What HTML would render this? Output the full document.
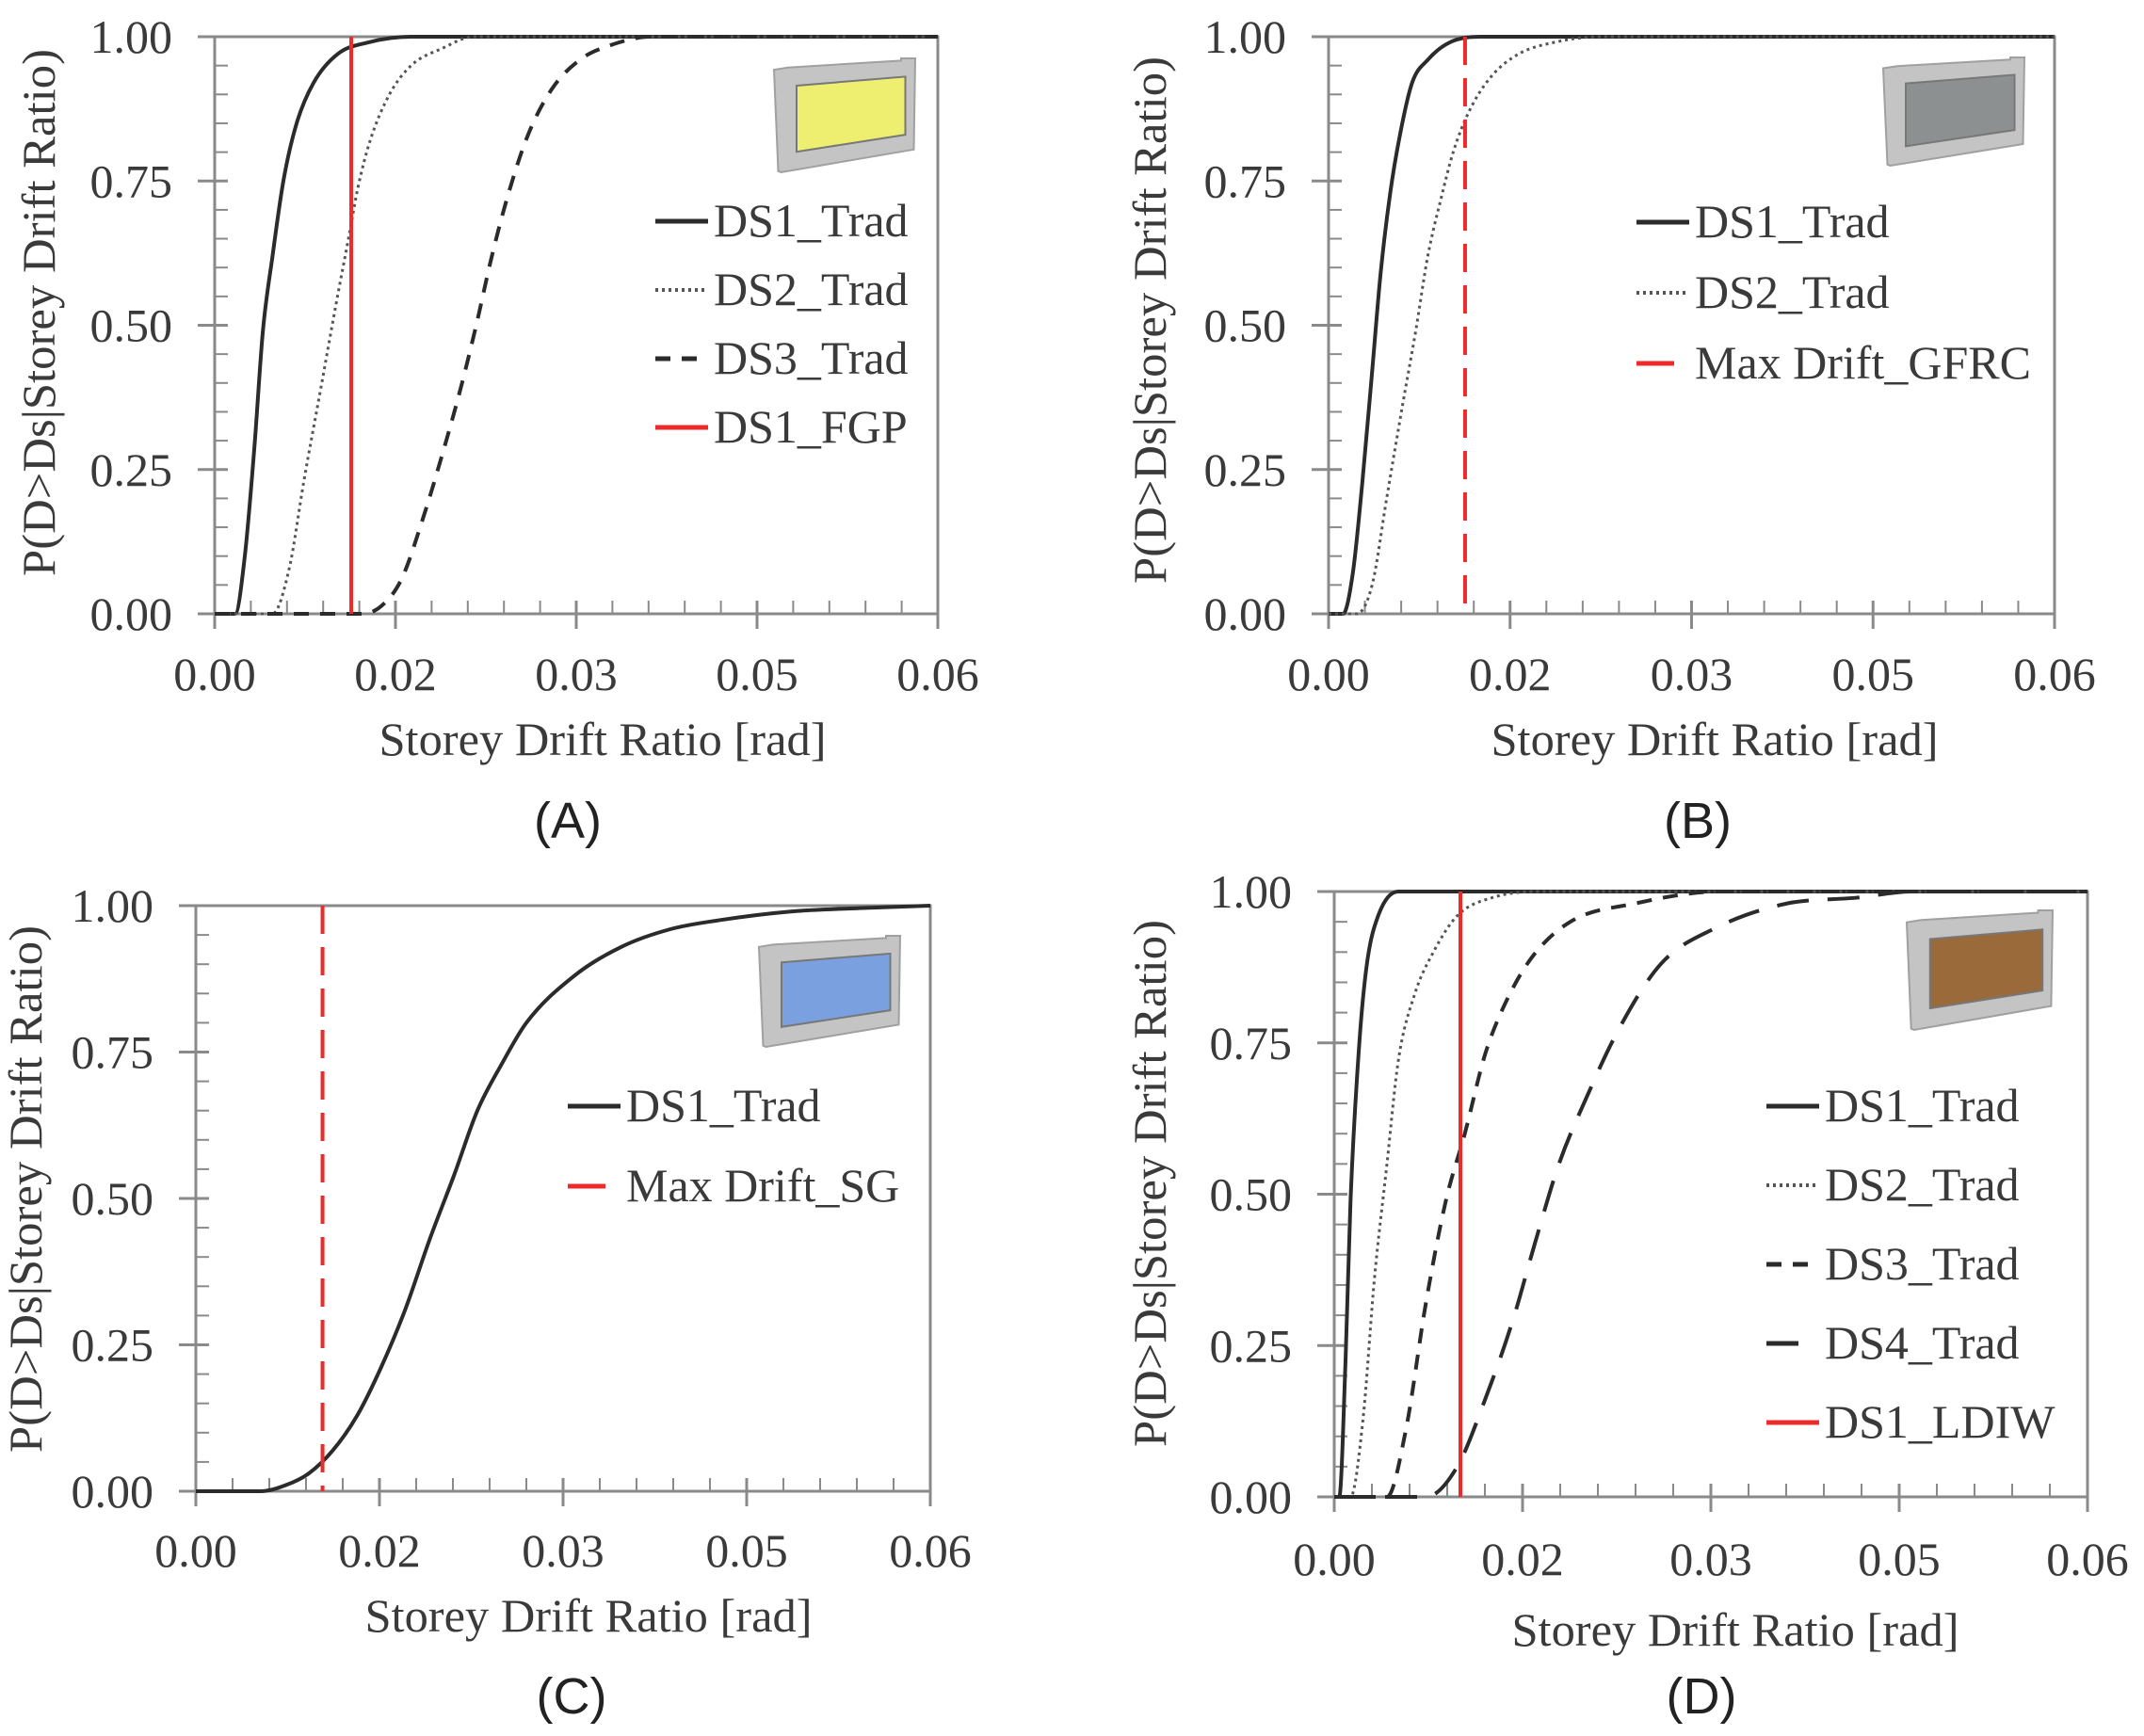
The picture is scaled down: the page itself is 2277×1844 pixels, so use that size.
<!DOCTYPE html>
<html><head><meta charset="utf-8"><style>
html,body{margin:0;padding:0;background:#fff;}
svg{display:block;}
text{font-family:"Liberation Serif",serif;fill:#3a3a3a;}
.ser{font-size:50px;}
.lab{font-family:"Liberation Sans",sans-serif;font-size:54px;fill:#222;}
</style></head><body>
<svg id="fig" width="2277" height="1844" viewBox="0 0 2277 1844" xmlns="http://www.w3.org/2000/svg"></svg>
<script>
// ---------- data ----------
const xTickValues = [0, 0.015, 0.03, 0.045, 0.06];
const xTickLabels = ["0.00", "0.02", "0.03", "0.05", "0.06"];
const yTickValues = [0, 0.25, 0.5, 0.75, 1];
const yTickLabels = ["0.00", "0.25", "0.50", "0.75", "1.00"];

// Panel A
const aDS1x = [0, 0.0017, 0.0025, 0.0033, 0.0040, 0.0048, 0.0057, 0.0068, 0.0082, 0.0102, 0.0127, 0.0163, 0.06];
const aDS1y = [0, 0, 0.10, 0.29, 0.49, 0.62, 0.75, 0.85, 0.92, 0.97, 0.99, 1, 1];
const aDS2x = [0, 0.0048, 0.0062, 0.0074, 0.0088, 0.0101, 0.0111, 0.0119, 0.0129, 0.0145, 0.0163, 0.0189, 0.0215, 0.06];
const aDS2y = [0, 0, 0.08, 0.23, 0.39, 0.54, 0.65, 0.74, 0.82, 0.90, 0.95, 0.98, 1, 1];
const aDS3x = [0, 0.0122, 0.0138, 0.0155, 0.0172, 0.0188, 0.0204, 0.0217, 0.0230, 0.0244, 0.0260, 0.0280, 0.0303, 0.0328, 0.0362, 0.06];
const aDS3y = [0, 0, 0.013, 0.06, 0.16, 0.27, 0.39, 0.50, 0.62, 0.73, 0.83, 0.91, 0.96, 0.985, 1, 1];
const aRed = 0.01133;

// Panel B
const bDS1x = [0, 0.0012, 0.0020, 0.0028, 0.0036, 0.0043, 0.0051, 0.0059, 0.0069, 0.0082, 0.0100, 0.0126, 0.06];
const bDS1y = [0, 0, 0.07, 0.23, 0.42, 0.59, 0.73, 0.83, 0.92, 0.96, 0.99, 1, 1];
const bDS2x = [0, 0.0023, 0.0036, 0.0048, 0.0061, 0.0072, 0.0082, 0.0093, 0.0103, 0.0116, 0.0134, 0.0157, 0.0186, 0.0225, 0.06];
const bDS2y = [0, 0, 0.05, 0.20, 0.36, 0.49, 0.62, 0.72, 0.80, 0.87, 0.93, 0.97, 0.99, 1, 1];
const bRed = 0.01128;

// Panel C
const cDS1x = [0, 0.0053, 0.0073, 0.0092, 0.0112, 0.0132, 0.0151, 0.0171, 0.0191, 0.0211, 0.0230, 0.0250, 0.0270, 0.0309, 0.0348, 0.0388, 0.0427, 0.0486, 0.0545, 0.06];
const cDS1y = [0, 0, 0.01, 0.03, 0.07, 0.13, 0.21, 0.31, 0.43, 0.54, 0.65, 0.73, 0.80, 0.88, 0.93, 0.96, 0.975, 0.99, 0.996, 1];
const cRed = 0.01035;

// Panel D
const dDS1x = [0, 0.0004, 0.0009, 0.0013, 0.0020, 0.0026, 0.0035, 0.0051, 0.06];
const dDS1y = [0, 0, 0.225, 0.49, 0.75, 0.88, 0.96, 1, 1];
const dDS2x = [0, 0.0013, 0.0023, 0.0032, 0.0042, 0.0051, 0.0064, 0.0079, 0.0098, 0.0126, 0.0164, 0.06];
const dDS2y = [0, 0, 0.13, 0.36, 0.55, 0.72, 0.83, 0.90, 0.96, 0.99, 1, 1];
const dDS3x = [0, 0.0042, 0.0057, 0.0073, 0.0089, 0.0104, 0.0120, 0.0135, 0.0157, 0.0188, 0.0239, 0.0307, 0.06];
const dDS3y = [0, 0, 0.11, 0.32, 0.49, 0.60, 0.73, 0.81, 0.89, 0.95, 0.98, 1, 1];
const dDS4x = [0, 0.0073, 0.0098, 0.0120, 0.0142, 0.0160, 0.0179, 0.0201, 0.0226, 0.0260, 0.0304, 0.0360, 0.0417, 0.0460, 0.06];
const dDS4y = [0, 0, 0.05, 0.16, 0.29, 0.42, 0.55, 0.66, 0.77, 0.88, 0.94, 0.98, 0.99, 1, 1];
const dRed = 0.01005;

// ---------- drawing ----------
const NS = "http://www.w3.org/2000/svg";
const svg = document.getElementById("fig");
function mk(tag, attrs, parent) {
  const e = document.createElementNS(NS, tag);
  for (const k in attrs) e.setAttribute(k, attrs[k]);
  (parent || svg).appendChild(e);
  return e;
}
function monotonePath(px, py) {
  const n = px.length;
  if (n < 2) return "";
  const d = [], m = new Array(n);
  for (let i = 0; i < n - 1; i++) d.push((py[i+1]-py[i]) / ((px[i+1]-px[i]) || 1e-9));
  m[0] = d[0]; m[n-1] = d[n-2];
  for (let i = 1; i < n - 1; i++) m[i] = (d[i-1]*d[i] <= 0) ? 0 : (d[i-1]+d[i]) / 2;
  for (let i = 0; i < n - 1; i++) {
    if (d[i] === 0) { m[i] = 0; m[i+1] = 0; continue; }
    const a = m[i]/d[i], b = m[i+1]/d[i], s = a*a + b*b;
    if (s > 9) { const t = 3/Math.sqrt(s); m[i] = t*a*d[i]; m[i+1] = t*b*d[i]; }
  }
  let p = "M" + px[0].toFixed(2) + "," + py[0].toFixed(2);
  for (let i = 0; i < n - 1; i++) {
    const h = px[i+1]-px[i];
    p += " C" + (px[i]+h/3).toFixed(2) + "," + (py[i]+m[i]*h/3).toFixed(2) + " " +
         (px[i+1]-h/3).toFixed(2) + "," + (py[i+1]-m[i+1]*h/3).toFixed(2) + " " +
         px[i+1].toFixed(2) + "," + py[i+1].toFixed(2);
  }
  return p;
}
const STY = {
  solid: {stroke: "#2b2b2b", w: 4, dash: ""},
  dotted: {stroke: "#555", w: 3, dash: "3 4"},
  dashed: {stroke: "#2b2b2b", w: 4, dash: "16 12"},
  longdash: {stroke: "#2b2b2b", w: 4, dash: "34 20"},
  red: {stroke: "#ee2b2b", w: 4, dash: ""},
  reddash: {stroke: "#ee2b2b", w: 4, dash: "30 14"}
};

function panel(cfg) {
  const g = mk("g", {});
  
  
  const L = cfg.L, R = cfg.R, T = cfg.T, B = cfg.B;
  const sx = v => L + (v / 0.06) * (R - L);
  const sy = v => B - v * (B - T);

  const ic = cfg.icon;
  const P = (fx, fy) => (ic.x + fx*ic.w).toFixed(1) + "," + (ic.y + fy*ic.h).toFixed(1);
  const icon = mk("g", {}, g);
  
  
  mk("polygon", {points: [P(0,0.1),P(0.1,0.08),P(0.9,0.02),P(0.9,0),P(1,0),P(0.99,0.8),P(0.05,1),P(0.03,0.99)].join(" "), fill: "#c4c4c4", stroke: "#a0a0a0", "stroke-width": 2}, icon);
  mk("polygon", {points: [P(0.16,0.24),P(0.93,0.16),P(0.93,0.67),P(0.16,0.82)].join(" "), fill: ic.color, stroke: "#777", "stroke-width": 2}, icon);

  const fr = mk("rect", {x: L, y: T, width: R-L, height: B-T, fill: "none", stroke: "#8a8a8a", "stroke-width": 3}, g);
  
  

  for (let v = 0; v <= 1.0001; v += 0.05) {
    const y = sy(v);
    const major = Math.abs(v*4 - Math.round(v*4)) < 1e-6;
    mk("line", {x1: major ? L-18 : L, x2: L+14, y1: y, y2: y, stroke: "#8a8a8a", "stroke-width": major ? 3 : 2}, g);
  }
  for (let i = 0; i <= 20; i++) {
    const v = i * 0.003, x = sx(v);
    const major = i % 5 === 0;
    mk("line", {x1: x, x2: x, y1: major ? B+16 : B, y2: B-14, stroke: "#8a8a8a", "stroke-width": major ? 3 : 2}, g);
  }
  yTickValues.forEach((v, i) => {
    const t = mk("text", {x: L-45, y: sy(v)+17, "text-anchor": "end", class: "ser", "font-size": 52}, g);
    t.textContent = yTickLabels[i];
    
    
  });
  xTickValues.forEach((v, i) => {
    const t = mk("text", {x: sx(v), y: cfg.xlabY, "text-anchor": "middle", class: "ser", "font-size": 52}, g);
    t.textContent = xTickLabels[i];
    
    
  });
  const xt = mk("text", {x: cfg.xtitle[0], y: cfg.xtitle[1], "text-anchor": "middle", class: "ser", textLength: 475, lengthAdjust: "spacingAndGlyphs"}, g);
  xt.textContent = "Storey Drift Ratio [rad]";
  
  
  const yt = mk("text", {x: 0, y: 0, "text-anchor": "middle", class: "ser", textLength: 560, lengthAdjust: "spacingAndGlyphs",
    transform: "translate(" + cfg.ytitle[0] + "," + cfg.ytitle[1] + ") rotate(-90)"}, g);
  yt.textContent = "P(D>Ds|Storey Drift Ratio)";
  
  

  cfg.series.forEach(s => {
    const st = STY[s.style];
    const path = mk("path", {d: monotonePath(s.x.map(sx), s.y.map(sy)), fill: "none", stroke: st.stroke, "stroke-width": st.w, "stroke-dasharray": st.dash}, g);
    
    
  });
  const rs = STY[cfg.redStyle];
  const rl = mk("line", {x1: sx(cfg.red), x2: sx(cfg.red), y1: T, y2: B, stroke: rs.stroke, "stroke-width": rs.w, "stroke-dasharray": rs.dash}, g);
  
  

  const lg = mk("g", {}, g);
  
  
  cfg.legend.forEach((e, i) => {
    const y = cfg.leg.y0 + i * cfg.leg.dy;
    const st = STY[e.style];
    let dash = st.dash;
    if (e.style === "reddash") dash = "40 16";
    if (e.style === "longdash") dash = "34 40";
    mk("line", {x1: cfg.leg.x, x2: cfg.leg.x + 56, y1: y - 16, y2: y - 16, stroke: st.stroke, "stroke-width": st.w + 1, "stroke-dasharray": dash}, lg);
    const t = mk("text", {x: cfg.leg.x + 62, y: y, class: "ser", "font-size": 49}, lg);
    t.textContent = e.label;
    
    
  });

  const pl = mk("text", {x: cfg.letter[0], y: cfg.letter[1] + 19, "text-anchor": "middle", class: "lab"}, g);
  pl.textContent = cfg.letterText;
  
  
}

panel({name: "panel-a", L: 228, R: 996, T: 39, B: 652, xlabY: 733, xtitle: [640, 802], ytitle: [58, 332],
  icon: {x: 822, y: 62, w: 150, h: 121, color: "#eeee70"},
  series: [{id: "ds1-trad-a", x: aDS1x, y: aDS1y, style: "solid"}, {id: "ds2-trad-a", x: aDS2x, y: aDS2y, style: "dotted"}, {id: "ds3-trad-a", x: aDS3x, y: aDS3y, style: "dashed"}],
  red: aRed, redStyle: "red",
  leg: {x: 696, y0: 251, dy: 73},
  legend: [{label: "DS1_Trad", style: "solid"}, {label: "DS2_Trad", style: "dotted"}, {label: "DS3_Trad", style: "dashed"}, {label: "DS1_FGP", style: "red"}],
  letter: [603, 871], letterText: "(A)"});

panel({name: "panel-b", L: 1411, R: 2182, T: 39, B: 652, xlabY: 733, xtitle: [1821, 802], ytitle: [1238, 340],
  icon: {x: 2000, y: 61, w: 150, h: 115, color: "#8c9090"},
  series: [{id: "ds1-trad-b", x: bDS1x, y: bDS1y, style: "solid"}, {id: "ds2-trad-b", x: bDS2x, y: bDS2y, style: "dotted"}],
  red: bRed, redStyle: "reddash",
  leg: {x: 1738, y0: 252, dy: 75},
  legend: [{label: "DS1_Trad", style: "solid"}, {label: "DS2_Trad", style: "dotted"}, {label: "Max Drift_GFRC", style: "reddash"}],
  letter: [1803, 871], letterText: "(B)"});

panel({name: "panel-c", L: 208, R: 988, T: 962, B: 1584, xlabY: 1664, xtitle: [625, 1733], ytitle: [44, 1263],
  icon: {x: 806, y: 994, w: 150, h: 118, color: "#7aa0e0"},
  series: [{id: "ds1-trad-c", x: cDS1x, y: cDS1y, style: "solid"}],
  red: cRed, redStyle: "reddash",
  leg: {x: 603, y0: 1191, dy: 85},
  legend: [{label: "DS1_Trad", style: "solid"}, {label: "Max Drift_SG", style: "reddash"}],
  letter: [607, 1801], letterText: "(C)"});

panel({name: "panel-d", L: 1417, R: 2217, T: 947, B: 1590, xlabY: 1673, xtitle: [1843, 1748], ytitle: [1238, 1257],
  icon: {x: 2025, y: 967, w: 155, h: 127, color: "#9a6a3a"},
  series: [{id: "ds1-trad-d", x: dDS1x, y: dDS1y, style: "solid"}, {id: "ds2-trad-d", x: dDS2x, y: dDS2y, style: "dotted"}, {id: "ds3-trad-d", x: dDS3x, y: dDS3y, style: "dashed"}, {id: "ds4-trad-d", x: dDS4x, y: dDS4y, style: "longdash"}],
  red: dRed, redStyle: "red",
  leg: {x: 1876, y0: 1191, dy: 84},
  legend: [{label: "DS1_Trad", style: "solid"}, {label: "DS2_Trad", style: "dotted"}, {label: "DS3_Trad", style: "dashed"}, {label: "DS4_Trad", style: "longdash"}, {label: "DS1_LDIW", style: "red"}],
  letter: [1807, 1801], letterText: "(D)"});
</script>
</body></html>
